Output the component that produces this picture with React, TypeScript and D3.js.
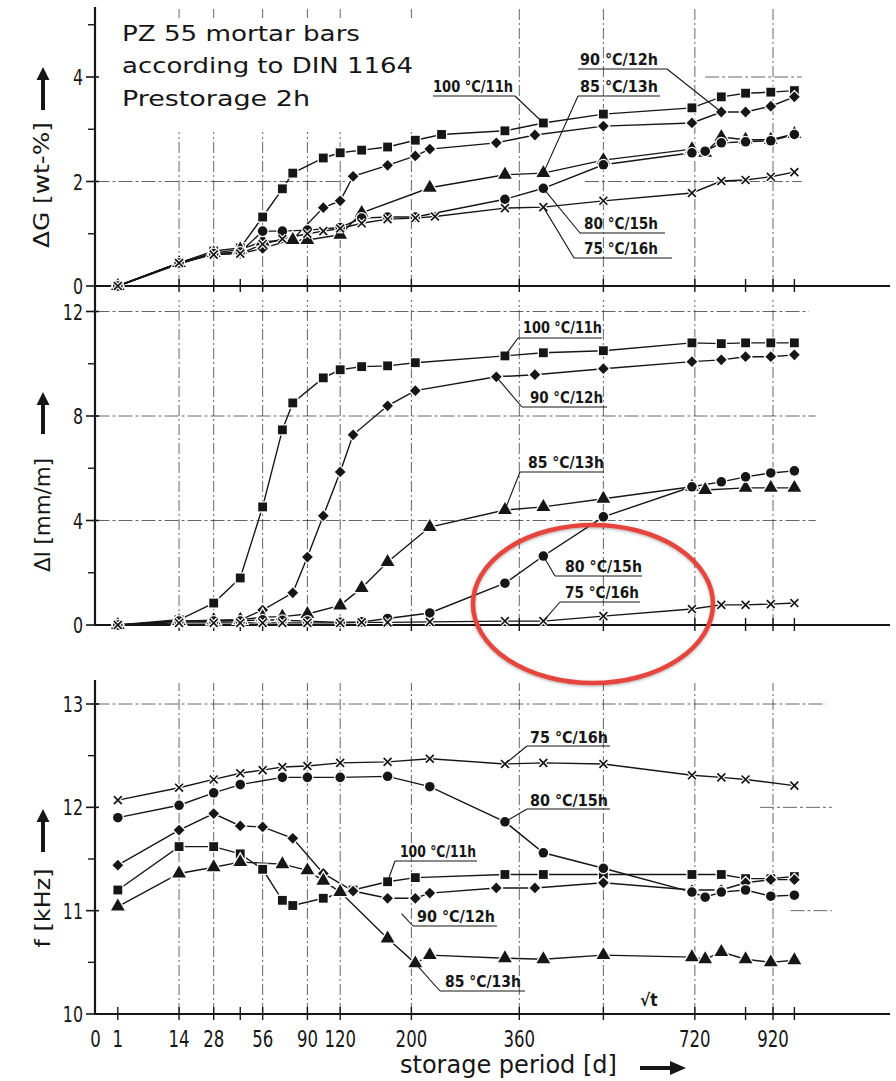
import React from "react";
import * as d3 from "d3";

type Pt = [number, number];

const FONT = "'DejaVu Sans Condensed', 'DejaVu Sans', 'Liberation Sans', sans-serif";
const INK = "#161616";

// storage period [d], drawn on a square-root axis
const xTickValues = [0, 1, 14, 28, 56, 90, 120, 200, 360, 720, 920];
const xMinorValues = [42, 517, 847, 979];
const xGridValues = [14, 28, 56, 90, 120, 200, 360, 517, 720, 920];

// ΔG [wt-%]
const g100: Pt[] = [[1, 0], [14, 0.44], [28, 0.67], [42, 0.73], [56, 1.32], [70, 1.86], [78, 2.16], [104, 2.45], [120, 2.55], [142, 2.6], [171, 2.66], [205, 2.79], [240, 2.9], [336, 2.97], [402, 3.12], [517, 3.29], [713, 3.41], [785, 3.62], [847, 3.69], [914, 3.71], [979, 3.74]];
const g90: Pt[] = [[1, 0], [14, 0.42], [28, 0.62], [42, 0.62], [56, 0.72], [78, 0.89], [104, 1.5], [120, 1.63], [133, 2.1], [171, 2.31], [205, 2.49], [224, 2.62], [322, 2.74], [387, 2.89], [517, 3.06], [713, 3.12], [785, 3.33], [847, 3.33], [914, 3.44], [979, 3.62]];
const g85: Pt[] = [[1, 0], [14, 0.44], [28, 0.63], [42, 0.7], [56, 0.85], [78, 0.88], [90, 0.88], [120, 0.98], [142, 1.4], [224, 1.88], [336, 2.13], [402, 2.16], [517, 2.41], [713, 2.62], [745, 2.55], [785, 2.85], [847, 2.8], [914, 2.8], [979, 2.91]];
const g80: Pt[] = [[1, 0], [14, 0.44], [28, 0.62], [42, 0.65], [56, 1.05], [70, 1.05], [90, 1.07], [120, 1.12], [142, 1.3], [171, 1.32], [205, 1.32], [336, 1.66], [402, 1.87], [517, 2.32], [713, 2.55], [745, 2.58], [785, 2.74], [847, 2.76], [914, 2.78], [979, 2.9]];
const g75: Pt[] = [[1, 0], [14, 0.44], [28, 0.6], [42, 0.62], [56, 0.8], [70, 0.9], [90, 1.0], [104, 1.05], [120, 1.1], [142, 1.2], [171, 1.28], [205, 1.3], [231, 1.33], [336, 1.49], [402, 1.51], [517, 1.63], [713, 1.78], [785, 2.01], [847, 2.03], [914, 2.09], [979, 2.18]];

// Δl [mm/m]
const l100: Pt[] = [[1, 0], [14, 0.2], [28, 0.84], [42, 1.8], [56, 4.52], [70, 7.47], [78, 8.5], [104, 9.46], [120, 9.77], [142, 9.89], [171, 9.92], [205, 10.04], [336, 10.3], [402, 10.42], [517, 10.5], [713, 10.8], [785, 10.77], [847, 10.8], [914, 10.8], [979, 10.8]];
const l90: Pt[] = [[1, 0], [14, 0.15], [28, 0.15], [42, 0.2], [56, 0.57], [78, 1.23], [90, 2.6], [104, 4.18], [120, 5.86], [133, 7.28], [171, 8.39], [205, 8.97], [322, 9.5], [387, 9.58], [517, 9.81], [713, 10.08], [785, 10.15], [847, 10.27], [914, 10.27], [979, 10.34]];
const l85: Pt[] = [[1, 0], [14, 0.15], [28, 0.18], [42, 0.2], [56, 0.3], [70, 0.32], [90, 0.42], [120, 0.75], [142, 1.42], [171, 2.41], [224, 3.75], [336, 4.4], [402, 4.52], [517, 4.83], [713, 5.29], [745, 5.17], [847, 5.25], [914, 5.25], [979, 5.25]];
const l80: Pt[] = [[1, 0], [14, 0.15], [28, 0.15], [42, 0.15], [56, 0.2], [70, 0.18], [90, 0.15], [120, 0.1], [142, 0.12], [171, 0.25], [224, 0.46], [336, 1.6], [402, 2.64], [517, 4.14], [713, 5.29], [785, 5.48], [847, 5.67], [914, 5.82], [979, 5.9]];
const l75: Pt[] = [[1, 0], [14, 0.08], [28, 0.08], [42, 0.08], [56, 0.08], [70, 0.08], [90, 0.08], [120, 0.08], [142, 0.1], [171, 0.1], [224, 0.12], [336, 0.15], [402, 0.15], [517, 0.34], [713, 0.61], [785, 0.77], [847, 0.77], [914, 0.8], [979, 0.84]];

// f [kHz]
const f100: Pt[] = [[1, 11.2], [14, 11.62], [28, 11.62], [42, 11.55], [56, 11.4], [70, 11.1], [78, 11.05], [104, 11.12], [133, 11.2], [171, 11.28], [205, 11.32], [336, 11.35], [402, 11.35], [517, 11.35], [713, 11.35], [785, 11.35], [847, 11.31], [914, 11.31], [979, 11.33]];
const f90: Pt[] = [[1, 11.44], [14, 11.78], [28, 11.94], [42, 11.82], [56, 11.81], [78, 11.7], [104, 11.36], [133, 11.19], [171, 11.12], [205, 11.12], [224, 11.17], [322, 11.22], [387, 11.22], [517, 11.27], [713, 11.2], [785, 11.2], [847, 11.27], [914, 11.3], [979, 11.3]];
const f85: Pt[] = [[1, 11.04], [14, 11.36], [28, 11.42], [42, 11.47], [70, 11.45], [90, 11.39], [104, 11.29], [120, 11.18], [171, 10.73], [205, 10.49], [224, 10.57], [336, 10.54], [402, 10.53], [517, 10.57], [713, 10.55], [745, 10.53], [785, 10.6], [847, 10.53], [914, 10.5], [979, 10.52]];
const f80: Pt[] = [[1, 11.9], [14, 12.02], [28, 12.14], [42, 12.22], [70, 12.29], [90, 12.29], [120, 12.29], [171, 12.3], [224, 12.2], [336, 11.86], [402, 11.56], [517, 11.41], [713, 11.18], [745, 11.13], [785, 11.18], [847, 11.2], [914, 11.14], [979, 11.15]];
const f75: Pt[] = [[1, 12.07], [14, 12.19], [28, 12.27], [42, 12.33], [56, 12.36], [70, 12.39], [90, 12.4], [120, 12.43], [171, 12.44], [224, 12.47], [336, 12.42], [402, 12.43], [517, 12.42], [713, 12.31], [785, 12.29], [847, 12.27], [979, 12.21]];

const x = d3.scaleSqrt().domain([0, 920]).range([95.5, 773]);
const yG = d3.scaleLinear().domain([0, 4]).range([286, 77]);
const yL = d3.scaleLinear().domain([0, 12]).range([625, 311.5]);
const yF = d3.scaleLinear().domain([10, 13]).range([1014, 704]);

const AXIS_X0 = 95;
const AXIS_X1 = 890;
const NARROW = 0.8;

type Kind = "square" | "diamond" | "triangle" | "circle" | "x";
type Label = { text: string; tx: number; ty: number; w: number; ul: [number, number]; uy: number; from: Pt; data: Pt[]; t: number; frac?: number };

const panels = [
  {
    y: yG, axisTop: 7, gridTop: 8, major: [0, 2, 4], minor: [1, 3, 5],
    hGrid: [{ v: 2, t1: 0, t2: 125 }, { v: 2, t1: 480, t2: 1000 }, { v: 4, t1: 745, t2: 1000 }],
    series: [
      { data: g100, kind: "square" as Kind }, { data: g90, kind: "diamond" as Kind }, { data: g85, kind: "triangle" as Kind },
      { data: g80, kind: "circle" as Kind }, { data: g75, kind: "x" as Kind },
    ],
    labels: [
      { text: "100 °C/11h", tx: 433, ty: 92, w: 80, ul: [433, 515], uy: 96, from: [515, 96], data: g100, t: 402 },
      { text: "90 °C/12h", tx: 580, ty: 65, w: 78, ul: [578, 667], uy: 69, from: [667, 69], data: g90, t: 785 },
      { text: "85 °C/13h", tx: 580, ty: 92, w: 78, ul: [578, 660], uy: 96, from: [578, 96], data: g85, t: 402 },
      { text: "80 °C/15h", tx: 584, ty: 229, w: 74, ul: [580, 665], uy: 233, from: [580, 233], data: g80, t: 402 },
      { text: "75 °C/16h", tx: 584, ty: 254, w: 74, ul: [574, 672], uy: 258, from: [574, 258], data: g75, t: 402 },
    ] as Label[],
  },
  {
    y: yL, axisTop: 286, gridTop: 300, major: [0, 4, 8, 12], minor: [2, 6, 10],
    hGrid: [{ v: 4, t1: 0, t2: 1040 }, { v: 8, t1: 0, t2: 1040 }, { v: 12, t1: 0, t2: 1020 }],
    series: [
      { data: l100, kind: "square" as Kind }, { data: l90, kind: "diamond" as Kind }, { data: l85, kind: "triangle" as Kind },
      { data: l80, kind: "circle" as Kind }, { data: l75, kind: "x" as Kind },
    ],
    labels: [
      { text: "100 °C/11h", tx: 523, ty: 333, w: 79, ul: [518, 602], uy: 338, from: [518, 338], data: l100, t: 336 },
      { text: "90 °C/12h", tx: 530, ty: 403, w: 73, ul: [522, 607], uy: 407, from: [522, 407], data: l90, t: 322 },
      { text: "85 °C/13h", tx: 528, ty: 468, w: 76, ul: [520, 604], uy: 472, from: [520, 472], data: l85, t: 336 },
      { text: "80 °C/15h", tx: 565, ty: 572, w: 77, ul: [555, 642], uy: 576, from: [555, 576], data: l80, t: 402 },
      { text: "75 °C/16h", tx: 565, ty: 598, w: 74, ul: [560, 640], uy: 602, from: [560, 602], data: l75, t: 402 },
    ] as Label[],
  },
  {
    y: yF, axisTop: 680, gridTop: 683, major: [10, 11, 12, 13], minor: [10.5, 11.5, 12.5],
    hGrid: [{ v: 13, t1: 0, t2: 1070 }, { v: 12, t1: 885, t2: 1087 }, { v: 11, t1: 968, t2: 1087 }],
    series: [
      { data: f100, kind: "square" as Kind }, { data: f90, kind: "diamond" as Kind }, { data: f85, kind: "triangle" as Kind },
      { data: f80, kind: "circle" as Kind }, { data: f75, kind: "x" as Kind },
    ],
    labels: [
      { text: "75 °C/16h", tx: 530, ty: 743, w: 78, ul: [527, 610], uy: 746, from: [527, 746], data: f75, t: 336 },
      { text: "80 °C/15h", tx: 530, ty: 806, w: 78, ul: [527, 610], uy: 809, from: [527, 809], data: f80, t: 336 },
      { text: "100 °C/11h", tx: 400, ty: 857, w: 76, ul: [395, 477], uy: 861, from: [395, 861], data: f100, t: 171 },
      { text: "90 °C/12h", tx: 417, ty: 922, w: 78, ul: [413, 497], uy: 926, from: [413, 926], data: f90, t: 171, frac: 0.45 },
      { text: "85 °C/13h", tx: 445, ty: 987, w: 76, ul: [440, 525], uy: 991, from: [440, 991], data: f85, t: 205 },
    ] as Label[],
  },
];

const symbolPath: Record<Kind, string> = {
  square: d3.symbol(d3.symbolSquare, 78)() as string,
  diamond: d3.symbol(d3.symbolSquare, 58)() as string,
  triangle: d3.symbol(d3.symbolTriangle, 82)() as string,
  circle: d3.symbol(d3.symbolCircle, 72)() as string,
  x: d3.symbol(d3.symbolTimes, 42)() as string,
};

const Marker = ({ kind, cx, cy }: { kind: Kind; cx: number; cy: number }) => {
  const rot = kind === "diamond" ? " rotate(45)" : "";
  const tr = `translate(${cx},${cy})${rot}`;
  if (kind === "x") {
    return (
      <g transform={tr}>
        <path d={symbolPath.x} fill="none" stroke="#fff" strokeWidth={4} />
        <path d={symbolPath.x} fill="none" stroke={INK} strokeWidth={1.7} />
      </g>
    );
  }
  return <path d={symbolPath[kind]} transform={tr} fill={INK} stroke="#fff" strokeWidth={2.6} paintOrder="stroke" />;
};

const UpArrow = ({ cx, tip, base }: { cx: number; tip: number; base: number }) => (
  <path d={`M${cx - 2},${base} L${cx - 2},${tip + 13} L${cx - 6.5},${tip + 13} L${cx},${tip} L${cx + 6.5},${tip + 13} L${cx + 2},${tip + 13} L${cx + 2},${base} Z`} fill={INK} />
);

const App = () => {
  const line = (y: d3.ScaleLinear<number, number>) =>
    d3.line<Pt>().x((d) => x(d[0])).y((d) => y(d[1]));

  return (
    <svg width={896} height={1081} style={{ position: "absolute", left: 0, top: 0, background: "#fff" }} fontFamily={FONT}>
      <defs>
        <filter id="soft" x="-20%" y="-20%" width="140%" height="140%">
          <feDropShadow dx="0" dy="1" stdDeviation="1.6" floodColor="#000" floodOpacity="0.35" />
        </filter>
      </defs>
      <rect width={896} height={1081} fill="#fff" />

      {panels.map((p, pi) => {
        const y0 = p.y.range()[0];
        return (
          <g key={pi}>
            {/* grid */}
            {xGridValues.map((t) => (
              <line key={"v" + t} x1={x(t)} x2={x(t)} y1={y0} y2={p.gridTop} stroke="#333" strokeWidth={1} strokeDasharray="11 3 2 3" opacity={0.75} />
            ))}
            {p.hGrid.map((g, i) => (
              <line key={"h" + i} x1={x(g.t1)} x2={x(g.t2)} y1={p.y(g.v)} y2={p.y(g.v)} stroke="#333" strokeWidth={1} strokeDasharray="14 3 3 3" opacity={0.75} />
            ))}
            {pi === 0 && <rect x={112} y={18} width={312} height={114} fill="#fff" />}

            {/* axes */}
            <line x1={AXIS_X0} x2={AXIS_X0} y1={p.axisTop} y2={y0} stroke={INK} strokeWidth={2.2} />
            <line x1={AXIS_X0 - 1} x2={AXIS_X1} y1={y0} y2={y0} stroke={INK} strokeWidth={2.2} />
            {p.major.map((v) => (
              <g key={"m" + v}>
                <line x1={AXIS_X0 - 9} x2={AXIS_X0 + 4} y1={p.y(v)} y2={p.y(v)} stroke={INK} strokeWidth={1.6} />
                <text transform={`translate(83,${p.y(v) + 8}) scale(${NARROW},1)`} textAnchor="end" fontSize={22} fill={INK}>{v}</text>
              </g>
            ))}
            {p.minor.map((v) => (
              <line key={"n" + v} x1={AXIS_X0 - 7} x2={AXIS_X0} y1={p.y(v)} y2={p.y(v)} stroke={INK} strokeWidth={1.4} />
            ))}
            {xTickValues.filter((t) => t > 0).concat(xMinorValues).map((t) => (
              <line key={"xt" + t} x1={x(t)} x2={x(t)} y1={y0 - 7} y2={y0 + 6} stroke={INK} strokeWidth={1.4} />
            ))}

            {/* series */}
            {p.series.map((s, si) => (
              <path key={"s" + si} d={line(p.y)(s.data) as string} fill="none" stroke={INK} strokeWidth={1.4} />
            ))}
            {p.series.map((s, si) =>
              s.data.map((d, di) => <Marker key={`k${si}-${di}`} kind={s.kind} cx={x(d[0])} cy={p.y(d[1])} />)
            )}

            {/* series labels with leaders */}
            {p.labels.map((lb, li) => {
              const target = lb.data.find((d) => d[0] === lb.t) as Pt;
              const tx = x(target[0]);
              const ty = p.y(target[1]);
              const f = lb.frac ?? 1;
              const ex = lb.from[0] + (tx - lb.from[0]) * f;
              const ey = lb.from[1] + (ty - lb.from[1]) * f;
              return (
                <g key={"l" + li}>
                  <line x1={lb.ul[0]} x2={lb.ul[1]} y1={lb.uy} y2={lb.uy} stroke={INK} strokeWidth={1.1} />
                  <line x1={lb.from[0]} y1={lb.from[1]} x2={ex} y2={ey} stroke={INK} strokeWidth={1.1} />
                  <text x={lb.tx} y={lb.ty} fontSize={16} fontWeight="bold" textLength={lb.w} lengthAdjust="spacingAndGlyphs" fill={INK}>{lb.text}</text>
                </g>
              );
            })}
          </g>
        );
      })}

      {/* title block */}
      <g fill={INK} fontSize={21}>
        <text x={122} y={41} textLength={238} lengthAdjust="spacingAndGlyphs">PZ 55 mortar bars</text>
        <text x={122} y={73} textLength={291} lengthAdjust="spacingAndGlyphs">according to DIN 1164</text>
        <text x={122} y={106} textLength={188} lengthAdjust="spacingAndGlyphs">Prestorage 2h</text>
      </g>

      {/* y axis titles */}
      <text transform="translate(49,185) rotate(-90)" textAnchor="middle" fontSize={22} textLength={126} lengthAdjust="spacingAndGlyphs" fill={INK}>ΔG [wt-%]</text>
      <UpArrow cx={43} tip={67} base={110} />
      <text transform="translate(50,515) rotate(-90)" textAnchor="middle" fontSize={22} textLength={114} lengthAdjust="spacingAndGlyphs" fill={INK}>Δl [mm/m]</text>
      <UpArrow cx={43} tip={392} base={434} />
      <text transform="translate(50,908) rotate(-90)" textAnchor="middle" fontSize={22} textLength={79} lengthAdjust="spacingAndGlyphs" fill={INK}>f [kHz]</text>
      <UpArrow cx={43} tip={809} base={852} />

      {/* x tick labels */}
      {xTickValues.map((t) => (
        <text key={"xl" + t} transform={`translate(${x(t)},1047) scale(${NARROW},1)`} textAnchor="middle" fontSize={23} fill={INK}>{t}</text>
      ))}
      <text x={640} y={1006} fontSize={17} fontWeight="bold" fill={INK}>√t</text>
      <text x={400} y={1073} fontSize={24} textLength={217} lengthAdjust="spacingAndGlyphs" fill={INK}>storage period [d]</text>
      <path d="M640,1066 L670,1066 L670,1061 L686,1068 L670,1075 L670,1070 L640,1070 Z" fill={INK} />

      {/* highlight */}
      <ellipse cx={593} cy={604} rx={120} ry={79} fill="none" stroke="#e5453d" strokeWidth={4.5} filter="url(#soft)" />
    </svg>
  );
};

export default App;
